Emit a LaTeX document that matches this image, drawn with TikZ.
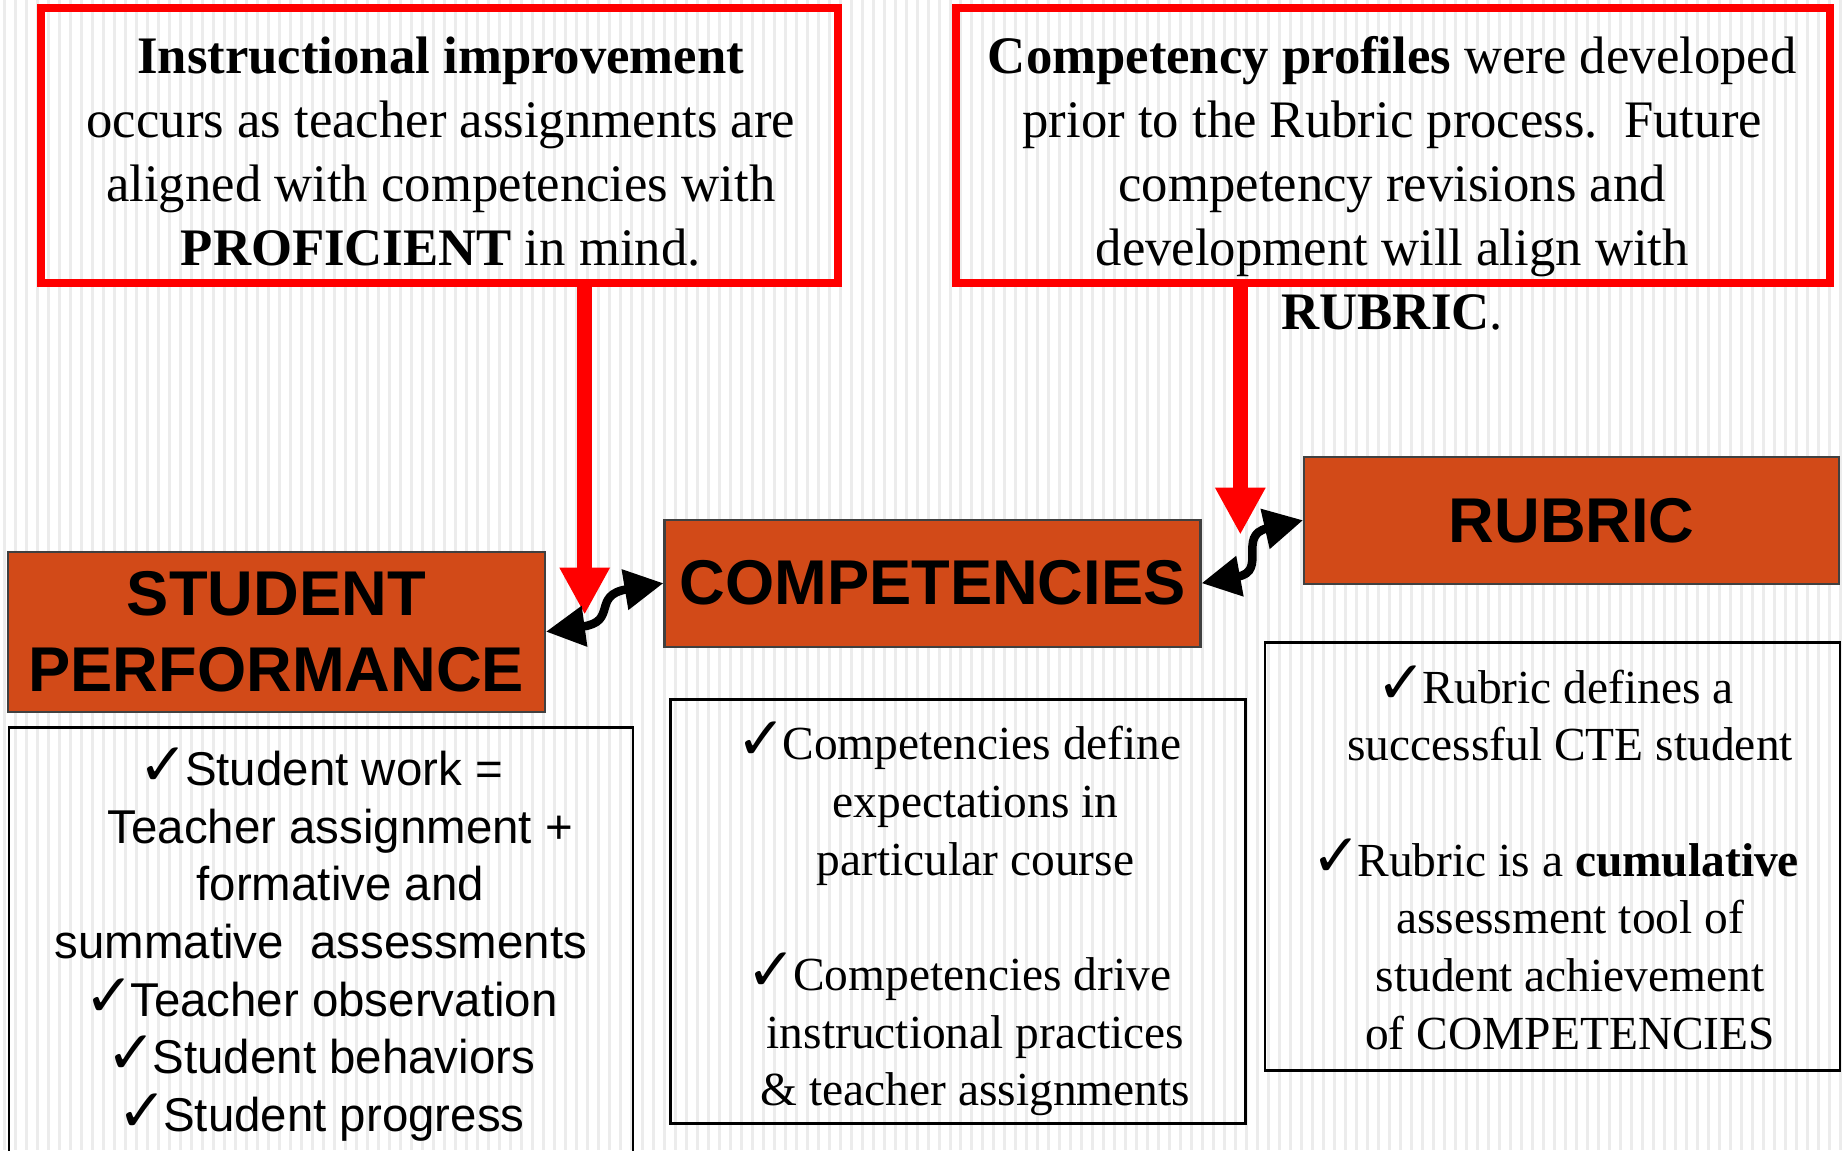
\documentclass[tikz,border=0pt]{standalone}
\usepackage{fontspec}
\setmainfont{Liberation Serif}
\setsansfont{Liberation Sans}
\newfontfamily\tickfont{DejaVu Sans}
\usetikzlibrary{arrows.meta}
\definecolor{boxorange}{RGB}{210,74,24}
\definecolor{stripegray}{RGB}{236,236,236}
\newcommand{\tickmark}{{\tickfont\fontsize{17}{12}\selectfont ✓}\kern-0.08em}
\begin{document}
\begin{tikzpicture}[x=0.01cm,y=-0.01cm,
    redbox/.style={draw=red,line width=0.08cm,inner sep=0pt},
    headbox/.style={draw=black!75,line width=0.6pt,fill=boxorange,inner sep=0pt,align=center,
        font=\sffamily\bfseries\fontsize{18}{21.6}\selectfont},
    listbox/.style={draw=black,line width=0.7pt,inner sep=0pt},
    toptext/.style={align=center,inner sep=0pt,font=\fontsize{15}{18.2}\selectfont},
    serifbody/.style={align=center,inner sep=0pt,font=\fontsize{13.5}{16.4}\selectfont},
    sansbody/.style={align=center,inner sep=0pt,font=\sffamily\fontsize{13.5}{16.4}\selectfont},
    redarrow/.style={red,line width=0.15cm,-{Triangle[length=0.47cm,width=0.47cm]}},
    linkarrow/.style={line width=0.085cm,{Triangle[length=0.39cm,width=0.39cm]}-{Triangle[length=0.39cm,width=0.39cm]}}]
    % background
    \fill[white](0,0)rectangle(1842,1151);
    \foreach \i in {0,...,167}
        \fill[stripegray](\i*11+3,0)rectangle++(3,1151);
    \useasboundingbox(0,0)rectangle(1842,1151);
    % top red boxes
    \node[redbox,minimum width=7.97cm,minimum height=2.75cm](instrBox)at(439.5,145.5){};
    \node[toptext](instrText)at(441,152){\textbf{Instructional improvement}\\occurs as teacher assignments are\\aligned with competencies with\\\textbf{PROFICIENT} in mind.};
    \node[redbox,minimum width=8.74cm,minimum height=2.75cm](profBox)at(1394,145.5){};
    \node[toptext](profText)at(1393,183.5){\textbf{Competency profiles} were developed\\prior to the Rubric process.\ \ Future\\competency revisions and\\development will align with\\\textbf{RUBRIC}.};
    % orange boxes
    \node[headbox,minimum width=5.37cm,minimum height=1.60cm](perfBox)at(276.5,632){STUDENT\\PERFORMANCE};
    \node[headbox,minimum width=5.36cm,minimum height=1.27cm](compBox)at(933,583.5){COMPETENCIES};
    \node[headbox,minimum width=5.35cm,minimum height=1.27cm](rubricBox)at(1572.5,520.5){RUBRIC};
    % lists
    \node[listbox,minimum width=6.24cm,minimum height=4.42cm](workBox)at(321,949){};
    \node[sansbody](workText)at(321,945){\tickmark Student work =\\\hspace*{0.39cm}Teacher assignment +\\\hspace*{0.39cm}formative and\\summative\ \ assessments\\\tickmark Teacher observation\\\tickmark Student behaviors\\\tickmark Student progress};
    \node[listbox,minimum width=5.75cm,minimum height=4.24cm](defineBox)at(958.5,912){};
    \node[serifbody](defineText)at(976,919.5){\hspace*{-0.33cm}\tickmark Competencies define\\expectations in\\particular course\\[16.4pt]\hspace*{-0.33cm}\tickmark Competencies drive\\instructional practices\\\& teacher assignments};
    \node[listbox,minimum width=5.75cm,minimum height=4.28cm](assessBox)at(1553.5,857){};
    \node[serifbody](assessText)at(1571,858){\hspace*{-0.30cm}\tickmark Rubric defines a\\successful CTE student\\[16.4pt]\hspace*{-0.30cm}\tickmark Rubric is a \textbf{cumulative}\\assessment tool of\\student achievement\\of COMPETENCIES};
    % arrows
    \coordinate(tipL)at(585,615);
    \coordinate(tipR)at(1241,535);
    \draw[redarrow](instrBox.south-|tipL)--(tipL);
    \draw[redarrow](profBox.south-|tipR)--(tipR);
    \draw[linkarrow](perfBox.east)..controls+(72,-10)and+(-72,12)..(compBox.west);
    \draw[linkarrow](compBox.east)..controls+(66,-12)and+(-66,15)..(rubricBox.west);
\end{tikzpicture}
\end{document}
